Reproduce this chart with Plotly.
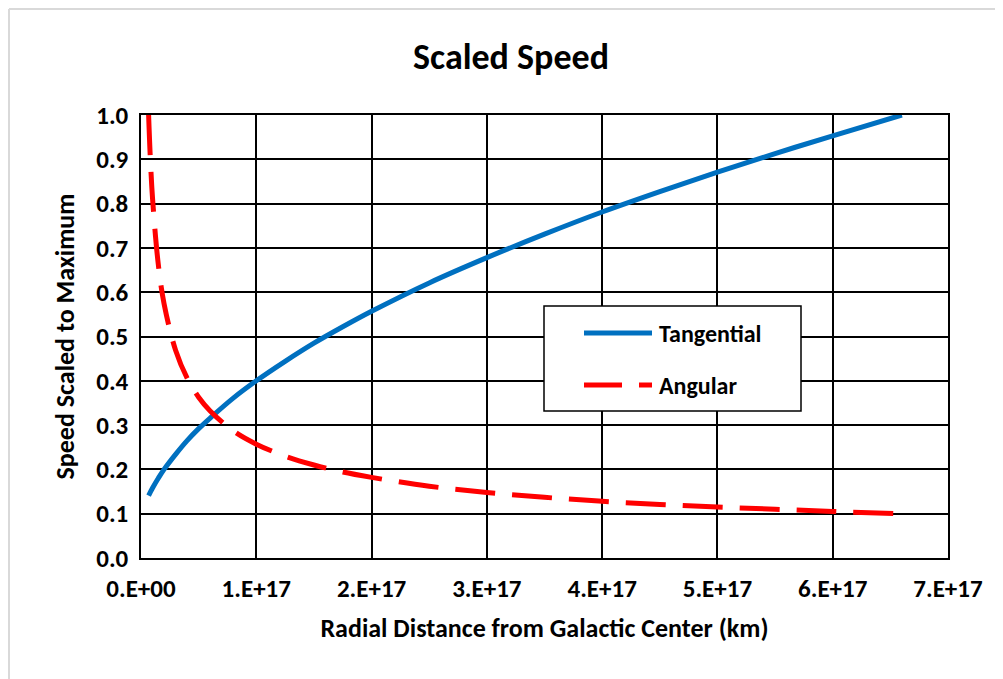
import plotly.graph_objects as go

# Radial distance (units of 1E17 km)
r_tan = [0.066, 0.08, 0.1, 0.15, 0.2, 0.3, 0.4, 0.5, 0.6, 0.8, 1.0, 1.25, 1.5, 1.75,
         2.0, 2.5, 3.0, 3.5, 4.0, 4.5, 5.0, 5.5, 6.0, 6.6]
tangential = [0.141, 0.148, 0.158, 0.180, 0.200, 0.234, 0.265, 0.292, 0.316, 0.361,
              0.400, 0.444, 0.485, 0.522, 0.557, 0.621, 0.678, 0.731, 0.781, 0.827,
              0.871, 0.913, 0.953, 1.000]
r_ang = [0.066, 0.08, 0.1, 0.15, 0.2, 0.3, 0.4, 0.5, 0.6, 0.8, 1.0, 1.25, 1.5, 1.75,
         2.0, 2.5, 3.0, 3.5, 4.0, 4.5, 5.0, 5.5, 6.0, 6.6]
angular = [1.000, 0.908, 0.812, 0.663, 0.574, 0.469, 0.406, 0.363, 0.332, 0.287,
           0.257, 0.230, 0.210, 0.194, 0.182, 0.162, 0.148, 0.137, 0.128, 0.121,
           0.115, 0.110, 0.105, 0.100]

x_tickvals = [0, 1e17, 2e17, 3e17, 4e17, 5e17, 6e17, 7e17]
x_ticktext = ["0.E+00", "1.E+17", "2.E+17", "3.E+17", "4.E+17", "5.E+17", "6.E+17", "7.E+17"]
y_tickvals = [0.0, 0.1, 0.2, 0.3, 0.4, 0.5, 0.6, 0.7, 0.8, 0.9, 1.0]

FONT = "Carlito, Calibri, Lato, sans-serif"
BLUE = "#0070C0"
RED = "#FF0000"

fig = go.Figure()
fig.add_trace(go.Scatter(x=[v * 1e17 for v in r_tan], y=tangential, mode="lines",
                         name="Tangential", line=dict(color=BLUE, width=5),
                         line_shape="spline", showlegend=False))
fig.add_trace(go.Scatter(x=[v * 1e17 for v in r_ang], y=angular, mode="lines",
                         name="Angular", line=dict(color=RED, width=5, dash="40px,17px"),
                         line_shape="spline", showlegend=False))

OFF = 8  # page offset of the plot div
W, H = 1003 - OFF, 679 - OFF
L, R, T, B = 141 - OFF, 55, 115 - OFF, 121
pw, ph = W - L - R, H - T - B

def px(xp):
    return (xp - OFF - L) / pw

def py(yp):
    return 1 - (yp - OFF - T) / ph

shapes = [
    # outer chart border (left/top visible)
    dict(type="line", xref="paper", yref="paper", x0=px(9), x1=px(1003), y0=py(9), y1=py(9),
         line=dict(color="#D9D9D9", width=2)),
    dict(type="line", xref="paper", yref="paper", x0=px(9), x1=px(9), y0=py(9), y1=py(679),
         line=dict(color="#D9D9D9", width=2)),
    # legend box
    dict(type="rect", xref="paper", yref="paper", x0=px(544), x1=px(801), y0=py(306), y1=py(411),
         line=dict(color="black", width=1.5), fillcolor="white", layer="above"),
    dict(type="line", xref="paper", yref="paper", x0=px(584), x1=px(652), y0=py(333), y1=py(333),
         line=dict(color=BLUE, width=5), layer="above"),
    dict(type="line", xref="paper", yref="paper", x0=px(584), x1=px(622), y0=py(385), y1=py(385),
         line=dict(color=RED, width=5), layer="above"),
    dict(type="line", xref="paper", yref="paper", x0=px(639), x1=px(652), y0=py(385), y1=py(385),
         line=dict(color=RED, width=5), layer="above"),
]

annotations = [
    dict(text="Tangential", xref="paper", yref="paper", x=px(657), y=py(333), xanchor="left",
         yanchor="middle", showarrow=False, font=dict(family=FONT, size=24, color="black", weight="bold")),
    dict(text="Angular", xref="paper", yref="paper", x=px(657), y=py(385), xanchor="left",
         yanchor="middle", showarrow=False, font=dict(family=FONT, size=24, color="black", weight="bold")),
]

fig.update_layout(
    width=W, height=H,
    margin=dict(l=L, r=R, t=T, b=B),
    paper_bgcolor="white", plot_bgcolor="white",
    title=dict(text="<b>Scaled Speed</b>", x=px(511), xanchor="center", xref="paper",
               y=1 - (56 - OFF) / H, yanchor="middle",
               font=dict(family=FONT, size=36, color="black")),
    shapes=shapes, annotations=annotations,
    font=dict(family=FONT, color="black"),
)
fig.update_xaxes(range=[0, 7e17], tickvals=x_tickvals, ticktext=x_ticktext,
                 showgrid=True, gridcolor="black", gridwidth=1.5,
                 showline=True, linecolor="black", linewidth=1.5, mirror=True,
                 ticks="", zeroline=False, ticklabelstandoff=7,
                 tickfont=dict(family=FONT, size=25, color="black", weight="bold"),
                 title=dict(text="<b>Radial Distance from Galactic Center (km)</b>", standoff=16,
                            font=dict(family=FONT, size=26, color="black")))
fig.update_yaxes(range=[0, 1.0], tickvals=y_tickvals, tickformat=".1f",
                 showgrid=True, gridcolor="black", gridwidth=1.5,
                 showline=True, linecolor="black", linewidth=1.5, mirror=True,
                 ticks="", zeroline=False, ticklabelstandoff=6,
                 tickfont=dict(family=FONT, size=25, color="black", weight="bold"),
                 title=dict(text="<b>Speed Scaled to Maximum</b>", standoff=14,
                            font=dict(family=FONT, size=26, color="black")))

fig.write_html("out.html")
